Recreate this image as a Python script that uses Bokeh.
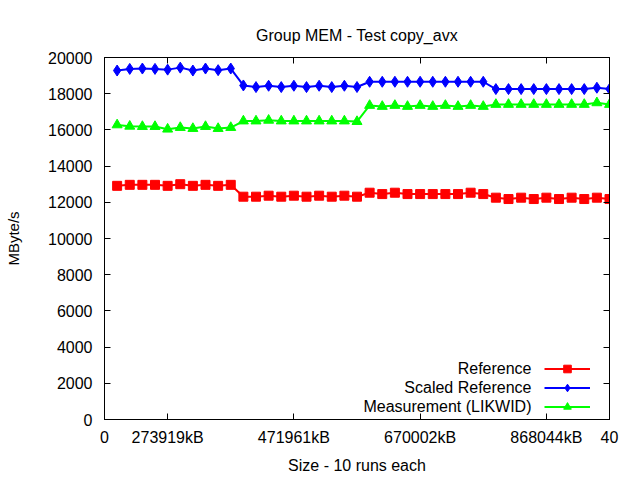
from bokeh.plotting import figure
from bokeh.models import (FixedTicker, LinearAxis, Legend, LegendItem, Label,
                          ColumnDataSource, CustomLabelingPolicy)
from bokeh.embed import file_html
from bokeh.resources import INLINE

# ---------------- data ----------------
runs = list(range(1, 41))

reference = [12910, 12965, 12965, 12965, 12910, 13000, 12910, 12965, 12910, 12965,
             12310, 12310, 12365, 12310, 12365, 12310, 12365, 12310, 12365, 12310,
             12530, 12455, 12530, 12455, 12455, 12455, 12455, 12455, 12530, 12455,
             12255, 12180, 12255, 12180, 12255, 12180, 12255, 12180, 12255, 12180]

scaled_reference = [19280, 19370, 19390, 19370, 19330, 19440, 19280, 19390, 19300, 19390,
                    18455, 18365, 18440, 18365, 18440, 18365, 18440, 18365, 18440, 18370,
                    18660, 18660, 18660, 18660, 18660, 18660, 18660, 18660, 18660, 18660,
                    18255, 18255, 18255, 18255, 18255, 18255, 18255, 18255, 18330, 18255]

measurement = [16275, 16200, 16185, 16185, 16040, 16130, 16075, 16185, 16075, 16130,
               16490, 16490, 16530, 16490, 16490, 16490, 16490, 16490, 16490, 16460,
               17350, 17295, 17350, 17295, 17350, 17295, 17350, 17295, 17350, 17295,
               17405, 17405, 17405, 17405, 17405, 17405, 17405, 17405, 17495, 17405]

x_tick_pos = [0, 5, 15, 25, 35, 40]
x_tick_labels = ["0", "273919kB", "471961kB", "670002kB", "868044kB", "40"]
y_tick_pos = list(range(0, 20001, 2000))

series_names = ["Reference", "Scaled Reference", "Measurement (LIKWID)"]
series_colors = ["#ff0000", "#0000ff", "#00ff00"]
series_markers = ["square", "diamond", "triangle"]
series_sizes = [9, 11, 10]

FONT = "Liberation Sans"
FS = "16px"

# ---------------- figure ----------------
p = figure(width=640, height=480, x_range=(0, 40), y_range=(0, 20000),
           output_backend="svg", toolbar_location=None,
           min_border_left=104, min_border_right=31,
           min_border_top=57, min_border_bottom=61)

p.background_fill_color = "white"
p.border_fill_color = "white"
p.outline_line_color = "black"
p.outline_line_width = 1
p.xgrid.visible = False
p.ygrid.visible = False

p.title.text = "Group MEM - Test copy_avx"
p.title.align = "center"
p.title.text_font = FONT
p.title.text_font_size = FS
p.title.text_font_style = "normal"
p.title.text_color = "black"
p.title.standoff = 20

hide_all = CustomLabelingPolicy(code="return new Set()")


def style_axis(ax, ticks, show_labels):
    ax.ticker = FixedTicker(ticks=ticks)
    ax.major_tick_in = 6
    ax.major_tick_out = 0
    ax.minor_tick_line_color = None
    ax.major_tick_line_color = "black"
    ax.axis_line_color = "black"
    ax.major_label_text_font = FONT
    ax.major_label_text_color = "black"
    if show_labels:
        ax.major_label_text_font_size = FS
    else:
        ax.major_label_text_font_size = "1px"
        ax.major_label_standoff = 0
        ax.major_label_policy = hide_all


xa = p.xaxis[0]
style_axis(xa, x_tick_pos, True)
xa.major_label_overrides = {t: l for t, l in zip(x_tick_pos, x_tick_labels)}
xa.major_label_standoff = 9
xa.axis_label = "Size - 10 runs each"
xa.axis_label_text_font = FONT
xa.axis_label_text_font_size = FS
xa.axis_label_text_font_style = "normal"
xa.axis_label_text_color = "black"
xa.axis_label_standoff = 8

ya = p.yaxis[0]
style_axis(ya, y_tick_pos, True)
ya.major_label_standoff = 12
ya.axis_label = "MByte/s"
ya.axis_label_text_font = FONT
ya.axis_label_text_font_size = "15px"
ya.axis_label_text_font_style = "normal"
ya.axis_label_text_color = "black"
ya.axis_label_standoff = 23

# mirrored ticks (gnuplot style)
top = LinearAxis()
style_axis(top, x_tick_pos, False)
p.add_layout(top, "above")
right = LinearAxis()
style_axis(right, y_tick_pos, False)
p.add_layout(right, "right")

# ---------------- series ----------------
items = []
for vals, name, col, mk, sz in zip([reference, scaled_reference, measurement],
                                   series_names, series_colors, series_markers, series_sizes):
    src = ColumnDataSource(dict(x=runs, y=vals))
    r1 = p.line("x", "y", source=src, line_color=col, line_width=2)
    r2 = p.scatter("x", "y", source=src, marker=mk, size=sz,
                   fill_color=col, line_color=col)
    items.append(LegendItem(label=" ", renderers=[r1, r2]))

legend = Legend(items=items, location=(440, 3), orientation="vertical",
                glyph_width=46, glyph_height=19, label_width=1, label_height=19,
                label_standoff=0, spacing=0, padding=0, margin=0,
                border_line_color=None, background_fill_alpha=0,
                label_text_font_size="1px")
p.add_layout(legend, "center")

for i, name in enumerate(series_names):
    p.add_layout(Label(x=427, y=51 - 19 * i, x_units="screen", y_units="screen",
                       text=name, text_align="right", text_baseline="middle",
                       text_font=FONT, text_font_size=FS, text_color="black"))

open("out.html", "w").write(file_html(p, INLINE))
